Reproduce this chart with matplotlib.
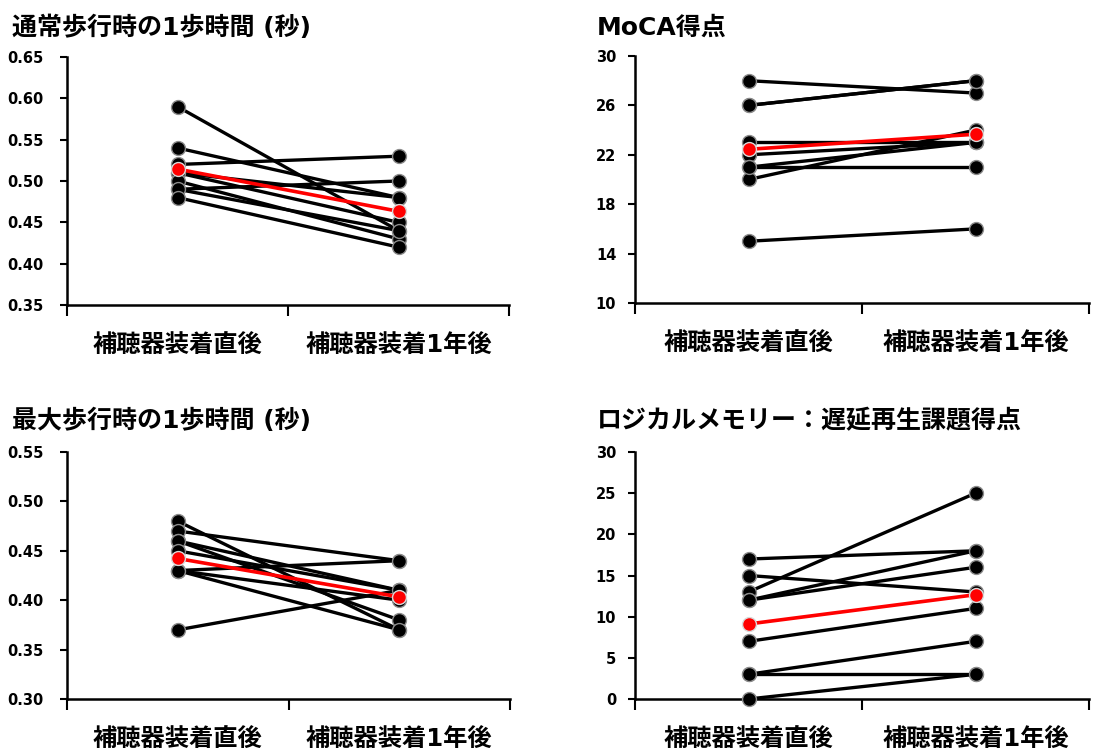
import matplotlib.pyplot as plt
import numpy as np

plt.rcParams['font.family'] = ['DejaVu Sans', 'Noto Sans CJK JP']
plt.rcParams['font.weight'] = 'bold'

categories = ['補聴器装着直後', '補聴器装着1年後']

# 通常歩行時の1歩時間 (秒)
walk_pre = [0.59, 0.54, 0.52, 0.49, 0.51, 0.51, 0.50, 0.49, 0.48]
walk_post = [0.44, 0.48, 0.53, 0.50, 0.48, 0.45, 0.43, 0.44, 0.42]

# MoCA得点
moca_pre = [28, 26, 26, 23, 22, 21, 20, 21, 15]
moca_post = [27, 28, 28, 23, 23, 23, 24, 21, 16]

# 最大歩行時の1歩時間 (秒)
maxwalk_pre = [0.48, 0.47, 0.46, 0.46, 0.45, 0.43, 0.43, 0.43, 0.37]
maxwalk_post = [0.37, 0.44, 0.41, 0.38, 0.41, 0.44, 0.40, 0.37, 0.41]

# ロジカルメモリー：遅延再生課題得点
lm_pre = [17, 15, 13, 12, 12, 7, 3, 3, 0]
lm_post = [18, 13, 25, 18, 16, 11, 7, 3, 3]

W, H = 1108, 751
fig = plt.figure(figsize=(W / 100, H / 100), dpi=100)


def px_axes(left, top, right, bottom):
    return fig.add_axes([left / W, 1 - bottom / H, (right - left) / W, (bottom - top) / H])


panels = [
    ('通常歩行時の1歩時間 (秒)', walk_pre, walk_post, (0.35, 0.65), np.arange(0.35, 0.651, 0.05), '{:.2f}',
     (67, 57, 509, 305), (12, 28), 12),
    ('MoCA得点', moca_pre, moca_post, (10, 30), np.arange(10, 31, 4), '{:.0f}',
     (635, 56, 1089, 303), (597, 28), 8.5),
    ('最大歩行時の1歩時間 (秒)', maxwalk_pre, maxwalk_post, (0.30, 0.55), np.arange(0.30, 0.551, 0.05), '{:.2f}',
     (67, 452, 510, 699), (12, 421), 12),
    ('ロジカルメモリー：遅延再生課題得点', lm_pre, lm_post, (0, 30), np.arange(0, 31, 5), '{:.0f}',
     (635, 452, 1089, 699), (597, 421), 8.5),
]

x = [0.5, 1.5]
for title, pre, post, ylim, yticks, fmt, box, tpos, ypad in panels:
    ax = px_axes(*box)
    for a, b in zip(pre, post):
        ax.plot(x, [a, b], color='black', lw=2.4, marker='o', ms=10,
                mfc='black', mec='#8c8c8c', mew=1.0, zorder=3, clip_on=False)
    ax.plot(x, [np.mean(pre), np.mean(post)], color='red', lw=2.6, marker='o', ms=10,
            mfc='red', mec='#d9d9d9', mew=1.0, zorder=4, clip_on=False)
    ax.set_xlim(0, 2)
    ax.set_ylim(*ylim)
    ax.set_yticks(yticks)
    ax.set_yticklabels([fmt.format(v) for v in yticks], fontsize=10.5, fontweight='bold')
    ax.set_xticks([0, 1, 2])
    ax.set_xticklabels([])
    ax.set_xticks(x, minor=True)
    ax.set_xticklabels(categories, minor=True, fontsize=17.5, fontweight='bold')
    ax.tick_params(axis='x', which='major', length=8, width=1.5, direction='out')
    ax.tick_params(axis='x', which='minor', length=0, pad=21)
    ax.tick_params(axis='y', length=5, width=1.5, direction='out', pad=ypad)
    for s in ['top', 'right']:
        ax.spines[s].set_visible(False)
    for s in ['left', 'bottom']:
        ax.spines[s].set_linewidth(1.8)
    fig.text(tpos[0] / W, 1 - tpos[1] / H, title, fontsize=18, fontweight='bold',
             ha='left', va='center')

fig.savefig('out.png', dpi=100)
